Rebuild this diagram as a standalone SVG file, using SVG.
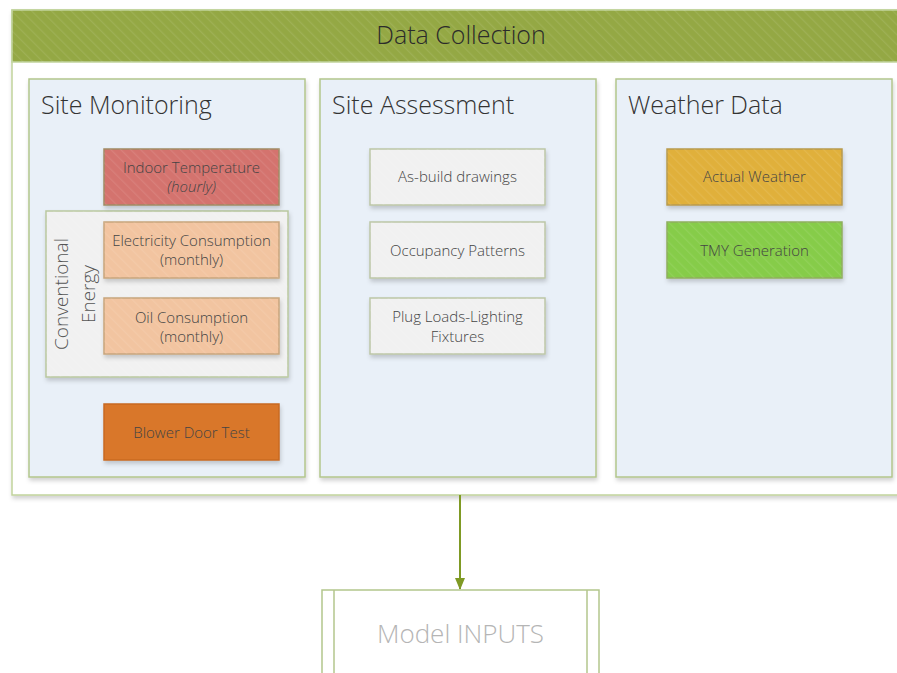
<svg xmlns="http://www.w3.org/2000/svg" width="897" height="673" viewBox="0 0 897 673">
<defs>
<pattern id="hatch" width="7" height="7" patternUnits="userSpaceOnUse" patternTransform="rotate(-45)">
<line x1="0" y1="0" x2="0" y2="7" stroke="#ffffff" stroke-opacity="0.09" stroke-width="2.5"/>
</pattern>
<filter id="sh" x="-10%" y="-10%" width="130%" height="140%">
<feDropShadow dx="1" dy="3" stdDeviation="2" flood-color="#000" flood-opacity="0.18"/>
</filter>
<marker id="arr" markerWidth="12" markerHeight="10" refX="11" refY="5" orient="auto" markerUnits="userSpaceOnUse">
<path d="M0,0 L12,5 L0,10 Z" fill="#7f9a24"/>
</marker>
</defs>
<style>
text{font-family:"Open Sans","Liberation Sans",sans-serif;font-weight:300;}
.panel{fill:#e9f0f8;stroke:#b3c68c;stroke-width:1.5;}
.ptitle{font-size:25px;fill:#333;}
.box{stroke-width:1.5;}
.bt{font-size:15px;fill:#444;text-anchor:middle;}
.gray{fill:#f1f1f1;stroke:#bcc6a6;}
</style>
<rect width="897" height="673" fill="#ffffff"/>

<g id="data-collection">
<rect x="12" y="10" width="900" height="485" fill="#ffffff" stroke="#c1d39c" stroke-width="1.5" filter="url(#sh)"/>
<rect x="12" y="10" width="900" height="52" fill="#94a844" stroke="#c1d39c" stroke-width="1.5"/>
<rect x="12" y="10" width="900" height="52" fill="url(#hatch)"/>
<text x="461" y="44" font-size="25" fill="#2b2b2b" text-anchor="middle">Data Collection</text>
</g>

<g id="site-monitoring">
<rect class="panel" x="29" y="79" width="276" height="398" filter="url(#sh)"/>
<text class="ptitle" x="41" y="114">Site Monitoring</text>
</g>
<g id="site-assessment">
<rect class="panel" x="320" y="79" width="276" height="398" filter="url(#sh)"/>
<text class="ptitle" x="332" y="114">Site Assessment</text>
</g>
<g id="weather-data">
<rect class="panel" x="616" y="79" width="276" height="398" filter="url(#sh)"/>
<text class="ptitle" x="628" y="114">Weather Data</text>
</g>

<g id="conventional-energy">
<rect x="46" y="211" width="242" height="166" fill="#f1f1f1" stroke="#b9c79e" stroke-width="1.5" filter="url(#sh)"/>
<rect x="46" y="211" width="242" height="166" fill="url(#hatch)"/>
<text transform="translate(68,294) rotate(-90)" font-size="19" fill="#555" text-anchor="middle">Conventional</text>
<text transform="translate(95,294) rotate(-90)" font-size="19" fill="#555" text-anchor="middle">Energy</text>
</g>

<g id="indoor-temperature">
<rect class="box" x="104" y="149" width="175" height="56" fill="#d4736e" stroke="#a08a64" filter="url(#sh)"/>
<rect x="104" y="149" width="175" height="56" fill="url(#hatch)"/>
<text class="bt" x="191.5" y="173">Indoor Temperature</text>
<text class="bt" x="191.5" y="192" font-style="italic">(hourly)</text>
</g>
<g id="electricity-consumption">
<rect class="box" x="104" y="222" width="175" height="56" fill="#f2c4a0" stroke="#c7a57c" filter="url(#sh)"/>
<rect x="104" y="222" width="175" height="56" fill="url(#hatch)"/>
<text class="bt" x="191.5" y="246">Electricity Consumption</text>
<text class="bt" x="191.5" y="265">(monthly)</text>
</g>
<g id="oil-consumption">
<rect class="box" x="104" y="298" width="175" height="56" fill="#f2c4a0" stroke="#c7a57c" filter="url(#sh)"/>
<rect x="104" y="298" width="175" height="56" fill="url(#hatch)"/>
<text class="bt" x="191.5" y="323">Oil Consumption</text>
<text class="bt" x="191.5" y="342">(monthly)</text>
</g>
<g id="blower-door-test">
<rect class="box" x="104" y="404" width="175" height="56" fill="#d9772b" stroke="#c86a22" filter="url(#sh)"/>
<text class="bt" x="191.5" y="438" fill="#3a2a1a">Blower Door Test</text>
</g>

<g id="as-build-drawings">
<rect class="box gray" x="370" y="149" width="175" height="56" filter="url(#sh)"/>
<rect x="370" y="149" width="175" height="56" fill="url(#hatch)"/>
<text class="bt" x="457.5" y="182">As-build drawings</text>
</g>
<g id="occupancy-patterns">
<rect class="box gray" x="370" y="222" width="175" height="56" filter="url(#sh)"/>
<rect x="370" y="222" width="175" height="56" fill="url(#hatch)"/>
<text class="bt" x="457.5" y="256">Occupancy Patterns</text>
</g>
<g id="plug-loads">
<rect class="box gray" x="370" y="298" width="175" height="56" filter="url(#sh)"/>
<rect x="370" y="298" width="175" height="56" fill="url(#hatch)"/>
<text class="bt" x="457.5" y="322">Plug Loads-Lighting</text>
<text class="bt" x="457.5" y="342">Fixtures</text>
</g>

<g id="actual-weather">
<rect class="box" x="667" y="149" width="175" height="56" fill="#e0b03a" stroke="#b89a4e" filter="url(#sh)"/>
<rect x="667" y="149" width="175" height="56" fill="url(#hatch)"/>
<text class="bt" x="754.5" y="182" fill="#3a3520">Actual Weather</text>
</g>
<g id="tmy-generation">
<rect class="box" x="667" y="222" width="175" height="56" fill="#86cc4a" stroke="#8fae5e" filter="url(#sh)"/>
<rect x="667" y="222" width="175" height="56" fill="url(#hatch)"/>
<text class="bt" x="754.5" y="256" fill="#2e3a20">TMY Generation</text>
</g>

<g id="connectors">
<line x1="460" y1="495" x2="460" y2="589" stroke="#7f9a24" stroke-width="2" marker-end="url(#arr)"/>
</g>

<g id="model-inputs">
<rect x="322" y="590" width="277" height="100" fill="#ffffff" stroke="#b3c68c" stroke-width="1.5"/>
<line x1="334" y1="590" x2="334" y2="690" stroke="#b3c68c" stroke-width="1.5"/>
<line x1="587" y1="590" x2="587" y2="690" stroke="#b3c68c" stroke-width="1.5"/>
<text x="460.5" y="643" font-size="26" fill="#b5b5b5" text-anchor="middle">Model INPUTS</text>
</g>
</svg>
